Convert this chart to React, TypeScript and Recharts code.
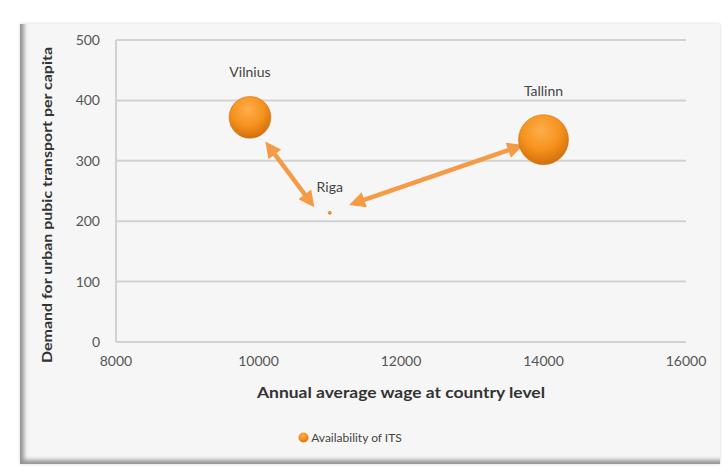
import {
  CartesianGrid,
  LabelList,
  Legend,
  ReferenceLine,
  Scatter,
  ScatterChart,
  XAxis,
  YAxis,
  ZAxis,
} from "recharts";

const cities = ["Vilnius", "Riga", "Tallinn"];
const wages = [9880, 11000, 14000];
const demand = [372, 214, 335];
const itsLevel = [70, 0.4, 100];

const xTicks = [8000, 10000, 12000, 14000, 16000];
const yTicks = [0, 100, 200, 300, 400, 500];

// double-headed arrows drawn on the chart, in data units
const arrowFrom = [
  [10190, 317],
  [11420, 233],
];
const arrowTo = [
  [10690, 238],
  [13570, 320],
];

const data = cities.map((name, i) => ({
  name,
  x: wages[i],
  y: demand[i],
  z: itsLevel[i],
}));

const font = "Lato, 'Open Sans', sans-serif";
const orange = "#F7931E";
const arrowColor = "#F59A45";

const ArrowLine = (p: any) => (
  <line
    x1={p.x1}
    y1={p.y1}
    x2={p.x2}
    y2={p.y2}
    stroke={arrowColor}
    strokeWidth={4.5}
    markerStart="url(#arrowHead)"
    markerEnd="url(#arrowHead)"
  />
);

const YTitle = (props: any) => {
  const vb = props.viewBox;
  const cx = 46;
  const cy = vb.y + vb.height / 2 + 14;
  return (
    <text
      x={cx}
      y={cy}
      transform={`rotate(-90 ${cx} ${cy})`}
      textAnchor="middle"
      dominantBaseline="central"
      fontSize={14}
      fontWeight={700}
      fill="#333"
      fontFamily={font}
      textLength={316}
      lengthAdjust="spacingAndGlyphs"
    >
      Demand for urban pubic transport per capita
    </text>
  );
};

const XTitle = (props: any) => {
  const vb = props.viewBox;
  const cx = vb.x + vb.width / 2;
  return (
    <text
      x={cx}
      y={392}
      textAnchor="middle"
      dominantBaseline="central"
      fontSize={15}
      fontWeight={700}
      fill="#333"
      fontFamily={font}
      textLength={288}
      lengthAdjust="spacingAndGlyphs"
    >
      Annual average wage at country level
    </text>
  );
};

const renderLegend = () => (
  <div
    style={{
      display: "flex",
      justifyContent: "center",
      alignItems: "center",
      fontFamily: font,
      fontSize: 12,
      color: "#444",
    }}
  >
    <svg width={11} height={11} style={{ marginRight: 2 }}>
      <circle cx={5.5} cy={5.5} r={5} fill="url(#bubbleFill)" />
    </svg>
    Availability of ITS
  </div>
);

export default function App() {
  return (
    <div
      style={{
        position: "absolute",
        left: 0,
        top: 0,
        width: 728,
        height: 474,
        background: "#fff",
      }}
    >
      <div
        style={{
          position: "absolute",
          left: 20,
          top: 24,
          width: 700,
          height: 440,
          background: "#f6f6f6",
          boxShadow:
            "inset 6px -6px 4px -2px rgba(0,0,0,0.4), 0 0 3px rgba(0,0,0,0.18)",
        }}
      />
      <div style={{ position: "absolute", left: 0, top: 0 }}>
        <ScatterChart
          width={728}
          height={474}
          margin={{ top: 40, right: 42, left: 0, bottom: 47 }}
          style={{ fontFamily: font }}
        >
          <defs>
            <radialGradient id="bubbleFill" cx="45%" cy="32%" r="68%">
              <stop offset="0%" stopColor="#FCAE4C" />
              <stop offset="55%" stopColor={orange} />
              <stop offset="100%" stopColor="#D26F0A" />
            </radialGradient>
            <marker
              id="arrowHead"
              viewBox="0 0 10 10"
              refX={3}
              refY={5}
              markerWidth={17}
              markerHeight={16}
              markerUnits="userSpaceOnUse"
              orient="auto-start-reverse"
            >
              <path d="M0,0 L10,5 L0,10 Z" fill={arrowColor} />
            </marker>
          </defs>
          <CartesianGrid vertical={false} stroke="#d2d2d2" strokeWidth={2} />
          <XAxis
            type="number"
            dataKey="x"
            domain={[8000, 16000]}
            ticks={xTicks}
            axisLine={false}
            tickLine={false}
            tickSize={0}
            tickMargin={14}
            height={70}
            tick={{ fontSize: 14, fill: "#555" }}
            label={<XTitle />}
          />
          <YAxis
            type="number"
            dataKey="y"
            domain={[0, 500]}
            ticks={yTicks}
            width={116}
            axisLine={{ stroke: "#d2d2d2", strokeWidth: 2 }}
            tickLine={false}
            tickSize={0}
            tickMargin={16}
            tick={{ fontSize: 14, fill: "#555" }}
            label={<YTitle />}
          />
          <ZAxis type="number" dataKey="z" domain={[0, 100]} range={[0, 1963]} />
          {arrowFrom.map((from, i) => (
            <ReferenceLine
              key={i}
              segment={[
                { x: from[0], y: from[1] },
                { x: arrowTo[i][0], y: arrowTo[i][1] },
              ]}
              shape={ArrowLine}
            />
          ))}
          <Scatter
            name="Availability of ITS"
            data={data}
            fill="url(#bubbleFill)"
            stroke="#C9690A"
            strokeOpacity={0.5}
            isAnimationActive={false}
          >
            <LabelList
              dataKey="name"
              position="top"
              offset={19}
              style={{ fontSize: 14, fill: "#444" }}
            />
          </Scatter>
          <Legend
            content={renderLegend}
            wrapperStyle={{ top: 430, left: 0, width: 700 }}
          />
        </ScatterChart>
      </div>
    </div>
  );
}
